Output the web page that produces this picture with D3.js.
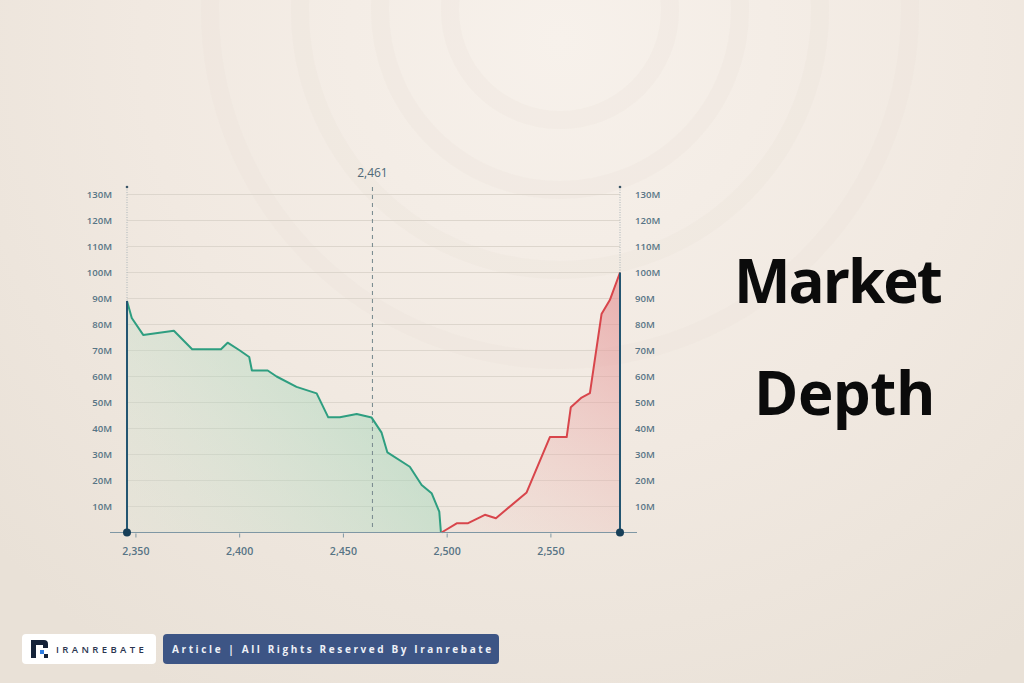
<!DOCTYPE html>
<html>
<head>
<meta charset="utf-8">
<script src="https://cdn.jsdelivr.net/npm/d3@7"></script>
<style>
  html, body { margin: 0; padding: 0; background: #efe7de; }
  svg { display: block; }
</style>
</head>
<body>
<div id="depth-chart"></div>
<script>
// order book, cumulative depth in millions
const bidPrices = [2345.7, 2348.0, 2353.5, 2368.3, 2377.1, 2391.0, 2394.2, 2400.1, 2404.6, 2405.9, 2413.5, 2417.8, 2427.4, 2437.1, 2442.7, 2448.3, 2456.4, 2463.6, 2468.4, 2471.2, 2482.0, 2487.7, 2492.5, 2496.2, 2497.0];
const bidDepth = [89, 82.5, 76, 77.6, 70.5, 70.5, 73, 70, 67.5, 62.3, 62.3, 60, 56, 53.5, 44.3, 44.3, 45.6, 44.2, 38.4, 30.8, 25.3, 18.3, 15.1, 8, 0];
const askPrices = [2497.3, 2504.8, 2510.1, 2518.2, 2523.5, 2538.3, 2549.5, 2557.6, 2559.6, 2564.8, 2568.8, 2574.4, 2578.4, 2583.3];
const askDepth = [0, 3.6, 3.6, 6.8, 5.5, 15.4, 36.7, 36.7, 48.2, 51.9, 53.6, 84, 89.4, 100];

const xTicks = [2350, 2400, 2450, 2500, 2550];
const yTicks = [10, 20, 30, 40, 50, 60, 70, 80, 90, 100, 110, 120, 130];
const midPrice = 2464;
const midLabel = '2,461';
const titleLines = ['Market', 'Depth'];
const badgeLogo = 'IRANREBATE';
const badgeText = 'Article | All Rights Reserved By Iranrebate';

const width = 1024, height = 683;
const bids = bidPrices.map((p, i) => ({ price: p, depth: bidDepth[i] }));
const asks = askPrices.map((p, i) => ({ price: p, depth: askDepth[i] }));

const x = d3.scaleLinear().domain([2345.7, 2583.3]).range([127, 620]);
const y = d3.scaleLinear().domain([0, 130]).range([532.5, 194.5]);

const svg = d3.select('#depth-chart').append('svg')
  .attr('width', width)
  .attr('height', height);

const defs = svg.append('defs');

/* background */
const bg = defs.append('radialGradient').attr('id', 'bg')
  .attr('gradientUnits', 'userSpaceOnUse')
  .attr('cx', 560).attr('cy', 40).attr('r', 760);
bg.append('stop').attr('offset', 0).attr('stop-color', '#f7f1eb');
bg.append('stop').attr('offset', 0.55).attr('stop-color', '#f1e9e1');
bg.append('stop').attr('offset', 1).attr('stop-color', '#e9e1d7');
svg.append('rect').attr('width', width).attr('height', height).attr('fill', 'url(#bg)');

// faint rings
[110, 180, 260, 350].forEach(r => {
  svg.append('circle').attr('cx', 560).attr('cy', 10).attr('r', r)
    .attr('fill', 'none').attr('stroke', '#e8dfd5').attr('stroke-width', 18).attr('opacity', 0.22);
});

/* gradients for areas */
const gGreen = defs.append('linearGradient').attr('id', 'bidFill')
  .attr('gradientUnits', 'userSpaceOnUse')
  .attr('x1', 420).attr('y1', 330).attr('x2', 140).attr('y2', 540);
gGreen.append('stop').attr('offset', 0).attr('stop-color', '#8fd0ae').attr('stop-opacity', 0.55);
gGreen.append('stop').attr('offset', 1).attr('stop-color', '#b9dcc5').attr('stop-opacity', 0.1);

const gRed = defs.append('linearGradient').attr('id', 'askFill')
  .attr('gradientUnits', 'userSpaceOnUse')
  .attr('x1', 615).attr('y1', 300).attr('x2', 470).attr('y2', 540);
gRed.append('stop').attr('offset', 0).attr('stop-color', '#e48f92').attr('stop-opacity', 0.6);
gRed.append('stop').attr('offset', 1).attr('stop-color', '#eebcb6').attr('stop-opacity', 0.1);

/* grid */
svg.append('g').selectAll('line')
  .data(yTicks).enter()
  .append('line')
  .attr('x1', x.range()[0]).attr('x2', x.range()[1])
  .attr('y1', d => y(d)).attr('y2', d => y(d))
  .attr('stroke', '#ddd6cd').attr('stroke-width', 1);

/* y labels, both sides */
const labelStyle = sel => sel
  .attr('font-family', '"Open Sans", sans-serif')
  .attr('font-size', 9.6)
  .attr('font-weight', 600)
  .attr('fill', '#577485');

svg.append('g').selectAll('text')
  .data(yTicks).enter()
  .append('text')
  .attr('x', 112).attr('y', d => y(d)).attr('dy', '0.35em')
  .attr('text-anchor', 'end')
  .text(d => d + 'M')
  .call(labelStyle);

svg.append('g').selectAll('text')
  .data(yTicks).enter()
  .append('text')
  .attr('x', 635).attr('y', d => y(d)).attr('dy', '0.35em')
  .attr('text-anchor', 'start')
  .text(d => d + 'M')
  .call(labelStyle);

/* areas */
const area = d3.area()
  .x(d => x(d.price))
  .y0(y(0))
  .y1(d => y(d.depth));
const line = d3.line()
  .x(d => x(d.price))
  .y(d => y(d.depth));

svg.append('path').attr('d', area(bids)).attr('fill', 'url(#bidFill)');
svg.append('path').attr('d', area(asks)).attr('fill', 'url(#askFill)');

/* mid price line */
svg.append('line')
  .attr('x1', x(midPrice)).attr('x2', x(midPrice))
  .attr('y1', 187).attr('y2', 530)
  .attr('stroke', '#7d8e92').attr('stroke-width', 1.1)
  .attr('stroke-dasharray', '4,4');
svg.append('text')
  .attr('x', x(midPrice)).attr('y', 177)
  .attr('text-anchor', 'middle')
  .attr('font-family', '"Open Sans", sans-serif')
  .attr('font-size', 12)
  .attr('fill', '#4e6877')
  .text(midLabel);

svg.append('path').attr('d', line(bids))
  .attr('fill', 'none').attr('stroke', '#2e9e80').attr('stroke-width', 2)
  .attr('stroke-linejoin', 'round');
svg.append('path').attr('d', line(asks))
  .attr('fill', 'none').attr('stroke', '#d8454b').attr('stroke-width', 2)
  .attr('stroke-linejoin', 'round');

/* x axis */
const xAxis = svg.append('g')
  .attr('transform', `translate(0, ${y(0)})`);
xAxis.append('line')
  .attr('x1', 110).attr('x2', 637)
  .attr('stroke', '#7f97a4').attr('stroke-width', 1.2);
xAxis.selectAll('.tick')
  .data(xTicks).enter()
  .append('line')
  .attr('x1', d => x(d)).attr('x2', d => x(d))
  .attr('y1', 1).attr('y2', 5)
  .attr('stroke', '#7f97a4');
xAxis.selectAll('text')
  .data(xTicks).enter()
  .append('text')
  .attr('x', d => x(d)).attr('y', 22.5)
  .attr('text-anchor', 'middle')
  .text(d => d3.format(',')(d))
  .call(labelStyle)
  .attr('font-size', 10.6);

/* edge markers */
const edges = [bids[0], asks[asks.length - 1]];
edges.forEach(d => {
  const ex = x(d.price);
  svg.append('line')
    .attr('x1', ex).attr('x2', ex).attr('y1', 187).attr('y2', y(d.depth))
    .attr('stroke', '#a9b4b8').attr('stroke-width', 1).attr('stroke-dasharray', '1,1.5');
  svg.append('circle').attr('cx', ex).attr('cy', 187).attr('r', 1.3).attr('fill', '#3a5566');
  svg.append('line')
    .attr('x1', ex).attr('x2', ex).attr('y1', y(d.depth)).attr('y2', y(0))
    .attr('stroke', '#235571').attr('stroke-width', 2);
  svg.append('circle').attr('cx', ex).attr('cy', y(0)).attr('r', 4).attr('fill', '#173f58');
});

/* title */
svg.append('g').selectAll('text')
  .data(titleLines).enter()
  .append('text')
  .attr('x', (d, i) => i === 0 ? 734 : 754)
  .attr('y', (d, i) => i === 0 ? 303 : 415)
  .attr('font-family', '"Open Sans", sans-serif')
  .attr('font-weight', 700)
  .attr('font-size', 60)
  .attr('letter-spacing', (d, i) => i === 0 ? -2 : -0.5)
  .attr('fill', '#0b0b0b')
  .text(d => d);

/* footer badges */
const foot = svg.append('g');
foot.append('rect').attr('x', 22).attr('y', 634).attr('width', 134).attr('height', 30)
  .attr('rx', 4).attr('fill', '#ffffff');
// logo mark
foot.append('path')
  .attr('d', 'M31,640 h13 a4,4 0 0 1 4,4 v4 h-5 v-3 h-7 v13 h-5 z')
  .attr('fill', '#152238');
foot.append('rect').attr('x', 40).attr('y', 650).attr('width', 4).attr('height', 4).attr('fill', '#2f7de1');
foot.append('rect').attr('x', 44).attr('y', 654).attr('width', 4).attr('height', 4).attr('fill', '#152238');
foot.append('text')
  .attr('x', 56).attr('y', 652.5)
  .attr('font-family', '"Open Sans", sans-serif')
  .attr('font-size', 9.5).attr('font-weight', 600)
  .attr('letter-spacing', 3.4)
  .attr('fill', '#2a3550')
  .text(badgeLogo);

foot.append('rect').attr('x', 163).attr('y', 634).attr('width', 336).attr('height', 30)
  .attr('rx', 4).attr('fill', '#3d5585');
foot.append('text')
  .attr('x', 172).attr('y', 653)
  .attr('font-family', '"Open Sans", sans-serif')
  .attr('font-size', 10).attr('font-weight', 700)
  .attr('letter-spacing', 2.6)
  .attr('fill', '#eef1f7')
  .text(badgeText);
</script>
</body>
</html>
